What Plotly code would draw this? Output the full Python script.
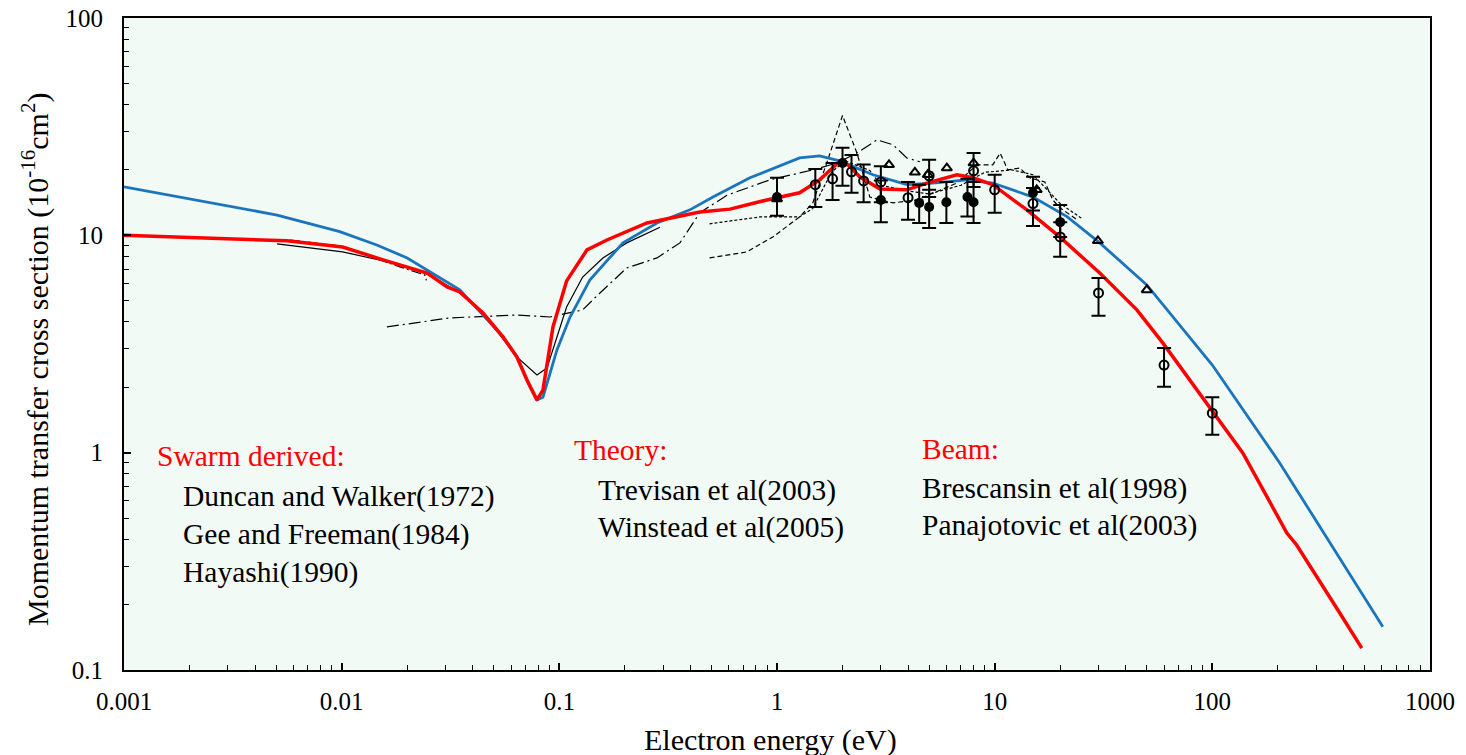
import plotly.graph_objects as go

# ---------------- data ----------------
blue_x = [0.001, 0.00505, 0.0098, 0.0145, 0.020, 0.0255, 0.0349, 0.0446, 0.0551, 0.0638, 0.0733,
          0.0789, 0.0841, 0.0975, 0.112, 0.138, 0.196, 0.281, 0.398, 0.508, 0.751, 1.27, 1.57,
          1.94, 2.76, 3.95, 5.20, 7.45, 9.8, 15.0, 21.5, 30.4, 50, 100, 204, 607]
blue_y = [16.7, 12.4, 10.4, 9.03, 7.87, 6.79, 5.61, 4.30, 3.41, 2.76, 2.01,
          1.75, 1.80, 2.97, 4.21, 6.23, 9.23, 11.4, 13.1, 15.0, 18.4, 22.7, 23.2,
          22.0, 19.0, 17.1, 17.4, 18.0, 17.4, 15.0, 12.2, 9.23, 5.91, 2.53, 0.897, 0.158]

red_x = [0.001, 0.0056, 0.0101, 0.0155, 0.0247, 0.0305, 0.0349, 0.0446, 0.0551, 0.0638, 0.071,
         0.0789, 0.0841, 0.0935, 0.108, 0.134, 0.1655, 0.2526, 0.442, 0.608, 0.899, 1.27, 1.57,
         1.905, 2.12, 2.40, 2.97, 3.95, 4.88, 6.71, 7.94, 9.8, 14.06, 19.9, 30.4, 45.0, 59.2,
         97.4, 138, 220, 244, 385, 486]
red_y = [10.0, 9.43, 8.84, 7.71, 6.71, 5.79, 5.49, 4.39, 3.41, 2.76, 2.16,
         1.75, 1.94, 3.79, 6.17, 8.57, 9.52, 11.4, 12.8, 13.2, 14.55, 15.7, 18.0,
         21.5, 21.1, 18.6, 16.35, 16.2, 17.4, 19.0, 18.4, 17.1, 13.1, 9.83, 6.71, 4.54, 3.20,
         1.62, 0.997, 0.427, 0.376, 0.183, 0.126]

# Swarm derived curves
hay_x = [0.00505, 0.0101, 0.0172, 0.0255, 0.0349, 0.0446, 0.0638, 0.0789, 0.0877, 0.108,
         0.128, 0.1586, 0.204, 0.290]
hay_y = [9.13, 8.39, 7.46, 6.57, 5.43, 4.39, 2.76, 2.28, 2.45, 4.68, 6.43, 7.87, 9.23, 10.9]

dw_x = [0.00579, 0.0098, 0.0185, 0.0241, 0.0245]
dw_y = [9.52, 8.94, 7.16, 6.57, 6.20]

gf_x = [0.01614, 0.0314, 0.0638, 0.0906, 0.128, 0.1537, 0.204, 0.281, 0.358, 0.442, 0.589,
        0.927, 1.46, 1.88, 2.33, 2.88, 3.41, 3.95, 4.53]
gf_y = [3.79, 4.17, 4.30, 4.21, 4.54, 5.43, 7.08, 7.87, 9.23, 12.7, 15.3,
        18.0, 20.0, 21.5, 23.9, 27.5, 26.1, 22.7, 21.8]

# Theory curves
tr_x = [0.49, 0.727, 0.957, 1.27, 1.46, 1.70, 2.0, 2.33, 2.67, 3.41, 4.39, 5.60, 6.71, 8.28,
        9.8, 10.6, 11.5, 13.06, 14.5, 17.0, 18.5, 19.9, 23.9]
tr_y = [7.87, 8.39, 9.83, 12.15, 14.1, 21.8, 35.6, 23.9, 15.0, 14.1, 14.55, 16.2, 17.4, 21.1,
        21.1, 23.9, 20.0, 20.4, 18.4, 17.6, 14.55, 13.4, 11.8]

wi_x = [0.49, 0.835, 1.27, 1.46, 1.78, 2.05, 2.67, 3.0, 4.0, 5.0, 7.0, 9.0, 12.0, 15.0, 20.0, 25.0]
wi_y = [11.3, 12.15, 12.15, 13.3, 19.5, 22.0, 19.9, 17.0, 16.0, 15.5, 17.0, 19.5, 20.0, 19.0, 14.0, 12.0]

# Beam data
oc_x = [1.5, 1.8, 2.2, 2.5, 3.0, 4.0, 5.0, 8.0, 10.0, 15.0, 20.0, 30.0, 60.0, 100.0]
oc_y = [17.1, 18.2, 19.6, 17.8, 17.6, 14.9, 18.8, 19.8, 16.2, 14.0, 9.83, 5.43, 2.53, 1.52]
oc_hi = [20.2, 21.5, 23.4, 21.2, 20.8, 17.6, 22.3, 23.9, 19.0, 16.5, 11.5, 6.37, 3.03, 1.80]
oc_lo = [13.5, 14.55, 15.7, 14.2, 14.2, 11.8, 15.0, 16.7, 12.7, 11.05, 7.96, 4.26, 2.01, 1.21]

fc_x = [1.0, 2.0, 3.0, 4.5, 5.0, 6.0, 7.5, 8.0, 15.0, 20.0]
fc_y = [15.0, 21.5, 14.55, 14.1, 13.5, 14.2, 15.0, 14.2, 15.7, 11.5]
fc_hi = [18.4, 25.3, 17.9, 17.1, 16.2, 17.6, 18.2, 17.6, 18.6, 13.8]
fc_lo = [12.3, 16.9, 11.5, 11.4, 10.8, 11.4, 12.2, 11.4, 13.0, 9.83]

tri_x = [1.0, 3.27, 4.30, 4.93, 6.03, 8.0, 15.6, 29.8, 50.0]
tri_y = [14.7, 21.1, 19.5, 19.0, 20.4, 21.5, 16.2, 9.43, 5.61]

x_ticks = [0.001, 0.01, 0.1, 1, 10, 100, 1000]
x_ticktext = ["0.001", "0.01", "0.1", "1", "10", "100", "1000"]
y_ticks = [0.1, 1, 10, 100]
y_ticktext = ["0.1", "1", "10", "100"]

# ---------------- figure ----------------
FONT = "Liberation Serif, Times New Roman, serif"
fig = go.Figure()

def line(x, y, color, width, dash="solid"):
    fig.add_trace(go.Scatter(x=x, y=y, mode="lines",
                             line=dict(color=color, width=width, dash=dash),
                             showlegend=False, hoverinfo="skip"))

line(gf_x, gf_y, "black", 1.2, "12px,4px,2px,4px")
line(dw_x, dw_y, "black", 1.2, "10px,3px,2px,3px")
line(hay_x, hay_y, "black", 1.2)
line(tr_x, tr_y, "black", 1.2, "5px,3px")
line(wi_x, wi_y, "black", 1.2, "3px,2px")
line(blue_x, blue_y, "#1a75bc", 2.8)
line(red_x, red_y, "#ff0000", 3.5)

def err(y, hi, lo):
    return dict(type="data", symmetric=False,
                array=[h - v for h, v in zip(hi, y)],
                arrayminus=[v - l for v, l in zip(y, lo)],
                color="black", thickness=2, width=7)

fig.add_trace(go.Scatter(x=oc_x, y=oc_y, mode="markers",
                         marker=dict(symbol="circle-open", size=9, color="black",
                                     line=dict(width=2, color="black")),
                         error_y=err(oc_y, oc_hi, oc_lo), showlegend=False))
fig.add_trace(go.Scatter(x=fc_x, y=fc_y, mode="markers",
                         marker=dict(symbol="circle", size=10, color="black"),
                         error_y=err(fc_y, fc_hi, fc_lo), showlegend=False))
fig.add_trace(go.Scatter(x=tri_x, y=tri_y, mode="markers",
                         marker=dict(symbol="triangle-up-open", size=9, color="black",
                                     line=dict(width=2, color="black")),
                         showlegend=False))

minor_x = [k * 10 ** n for n in range(-3, 3) for k in range(2, 10)]
minor_y = [k * 10 ** n for n in range(-1, 2) for k in range(2, 10)]

fig.update_xaxes(type="log", range=[-3, 3], tickvals=x_ticks, ticktext=x_ticktext,
                 ticks="inside", ticklen=7, tickwidth=1.5, tickcolor="black",
                 showline=True, linecolor="black", linewidth=2, mirror=True,
                 showgrid=False, zeroline=False, automargin=False,
                 minor=dict(tickvals=minor_x, ticks="inside", ticklen=5, tickwidth=1.2,
                            tickcolor="black", showgrid=False),
                 tickfont=dict(family=FONT, size=25, color="black"),
                 ticklabelstandoff=8)
fig.update_yaxes(type="log", range=[-1, 2], tickvals=y_ticks, ticktext=y_ticktext,
                 ticks="inside", ticklen=7, tickwidth=1.5, tickcolor="black",
                 showline=True, linecolor="black", linewidth=2, mirror=True,
                 showgrid=False, zeroline=False, automargin=False,
                 minor=dict(tickvals=minor_y, ticks="inside", ticklen=5, tickwidth=1.2,
                            tickcolor="black", showgrid=False),
                 tickfont=dict(family=FONT, size=25, color="black"),
                 ticklabelstandoff=14)

W, H = 1466, 755
L, R, T, B = 124, 36, 18, 85
pw, ph = W - L - R, H - T - B

def px(xp): return (xp - L) / pw
def py(yp): return (H - B - yp) / ph

# axis titles placed as annotations
fig.add_annotation(text="Momentum transfer cross section (10<sup>-16</sup>cm<sup>2</sup>)",
                   x=px(35), y=py(360), xref="paper", yref="paper",
                   xanchor="center", yanchor="middle", textangle=-90, showarrow=False,
                   font=dict(family=FONT, size=30, color="black"))
fig.add_annotation(text="Electron energy (eV)",
                   x=px(770), y=py(740), xref="paper", yref="paper",
                   xanchor="center", yanchor="middle", showarrow=False,
                   font=dict(family=FONT, size=30, color="black"))

texts = [
    ("Swarm derived:", 155, 456, "#ff0000"),
    ("Duncan and Walker(1972)", 181, 496, "black"),
    ("Gee and Freeman(1984)", 181, 534, "black"),
    ("Hayashi(1990)", 181, 572, "black"),
    ("Theory:", 572, 450, "#ff0000"),
    ("Trevisan et al(2003)", 596, 490, "black"),
    ("Winstead et al(2005)", 596, 527, "black"),
    ("Beam:", 920, 449, "#ff0000"),
    ("Brescansin et al(1998)", 920, 488, "black"),
    ("Panajotovic et al(2003)", 920, 525, "black"),
]
for t, x0, y0, c in texts:
    fig.add_annotation(text=t, x=px(x0), y=py(y0), xref="paper", yref="paper",
                       xanchor="left", yanchor="middle", showarrow=False,
                       font=dict(family=FONT, size=29.5, color=c))

fig.update_layout(width=W, height=H, margin=dict(l=L, r=R, t=T, b=B, autoexpand=False),
                  paper_bgcolor="white", plot_bgcolor="#f2faf5",
                  showlegend=False)

fig.write_html("out.html")
